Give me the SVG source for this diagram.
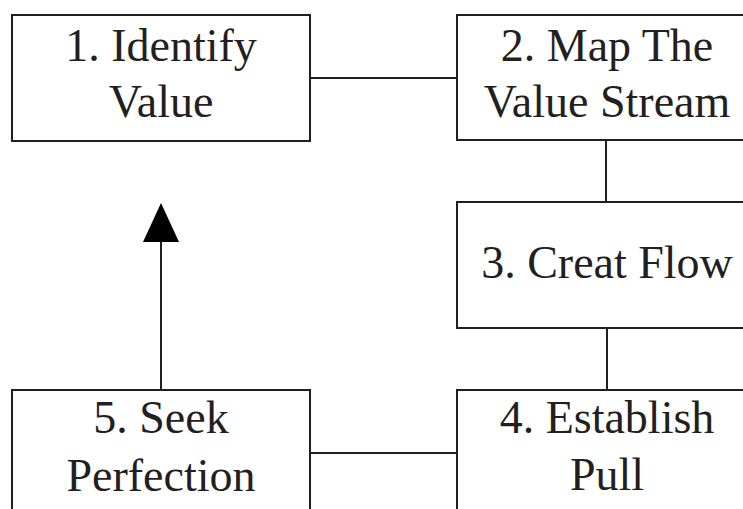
<svg xmlns="http://www.w3.org/2000/svg" width="743" height="509" viewBox="0 0 743 509">
  <style>
    .box { fill: #ffffff; stroke: #231f20; stroke-width: 2; }
    .link { fill: none; stroke: #231f20; stroke-width: 2; }
    .label { font-family: "Liberation Serif", "DejaVu Serif", serif; font-size: 46px; fill: #231f20; text-anchor: middle; }
  </style>
  <defs>
    <!-- solid triangular head, drawn along +x so orient="auto" follows the line -->
    <marker id="arrowhead" markerUnits="userSpaceOnUse" markerWidth="39" markerHeight="36" refX="0" refY="18" orient="auto" viewBox="0 0 39 36">
      <path d="M0 0 L39 18 L0 36 Z" fill="#000000"/>
    </marker>
  </defs>

  <g id="connectors">
    <line class="link" x1="311" y1="78" x2="457" y2="78"/>
    <line class="link" x1="606" y1="141" x2="606" y2="202"/>
    <line class="link" x1="607" y1="328" x2="607" y2="390"/>
    <line class="link" x1="311" y1="453" x2="457" y2="453"/>
    <line class="link" x1="161" y1="390" x2="161" y2="242" marker-end="url(#arrowhead)"/>
  </g>

  <g id="node-identify-value">
    <rect class="box" x="12" y="15" width="298" height="126"/>
    <text class="label" x="161" y="61">1. Identify</text>
    <text class="label" x="161" y="117">Value</text>
  </g>

  <g id="node-map-value-stream">
    <rect class="box" x="457" y="15" width="300" height="125"/>
    <text class="label" x="607" y="61">2. Map The</text>
    <text class="label" x="607" y="117">Value Stream</text>
  </g>

  <g id="node-create-flow">
    <rect class="box" x="457" y="202" width="300" height="126"/>
    <text class="label" x="607" y="278">3. Creat Flow</text>
  </g>

  <g id="node-establish-pull">
    <rect class="box" x="457" y="390" width="300" height="130"/>
    <text class="label" x="607" y="433">4. Establish</text>
    <text class="label" x="607" y="490">Pull</text>
  </g>

  <g id="node-seek-perfection">
    <rect class="box" x="12" y="390" width="298" height="130"/>
    <text class="label" x="161" y="433">5. Seek</text>
    <text class="label" x="161" y="491">Perfection</text>
  </g>
</svg>
